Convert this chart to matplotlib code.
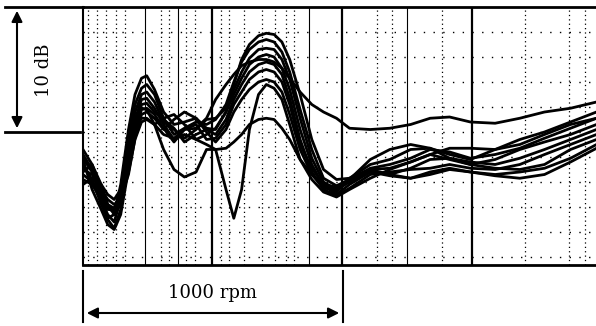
import matplotlib.pyplot as plt
from matplotlib.patches import FancyArrowPatch

# relative engine speed (rpm) and level (dB) for the run-up curves
rpm = [0, 35, 70, 95, 120, 145, 175, 200, 225, 245, 275, 310, 350, 390, 435, 475, 510, 550, 580,
       610, 640, 675, 705, 735, 765, 795, 835, 880, 925, 975, 1025,
       1105, 1180, 1260, 1335, 1410, 1490, 1585, 1680, 1775, 1875, 1975]

c1 = [7.4, 6.2, 4.2, 3.1, 3.4, 5.8, 10.2, 13.0, 14.3, 14.5, 13.4, 11.6, 10.6, 10.8, 11.1, 10.3, 10.2, 11.6, 13.8,
      15.8, 17.0, 17.7, 17.9, 17.8, 17.2, 15.8, 13.0, 9.4, 7.0, 6.2, 6.3,
      7.4, 7.8, 8.6, 8.7, 8.2, 7.8, 8.6, 9.4, 10.0, 10.8, 11.6]
c2 = [8.2, 7.0, 5.0, 3.8, 3.8, 5.4, 9.4, 12.2, 13.5, 13.8, 13.0, 11.1, 9.8, 10.3, 10.8, 10.6, 11.0, 12.2, 14.0,
      15.6, 16.6, 17.2, 17.4, 17.2, 16.4, 14.8, 11.8, 8.6, 6.3, 5.7, 6.2,
      7.1, 7.4, 7.9, 8.6, 8.4, 7.9, 8.2, 8.7, 9.5, 10.3, 11.1]
c3 = [6.8, 7.4, 5.8, 4.2, 3.9, 5.0, 8.6, 11.6, 13.0, 13.2, 12.4, 10.8, 10.2, 9.5, 10.2, 11.0, 11.1, 11.9, 13.4,
      14.8, 15.9, 16.6, 16.7, 16.6, 15.8, 14.2, 11.1, 7.9, 6.0, 5.4, 6.0,
      7.0, 7.1, 7.6, 8.2, 7.8, 7.4, 7.8, 8.6, 9.2, 9.8, 10.6]
c4 = [6.2, 5.8, 4.6, 3.4, 2.8, 4.6, 7.8, 11.0, 12.6, 12.7, 11.9, 10.6, 9.4, 9.8, 9.4, 9.8, 10.3, 11.6, 13.0,
      14.3, 15.4, 16.0, 16.2, 16.0, 15.1, 13.4, 10.2, 7.4, 5.7, 5.0, 5.8,
      6.8, 6.6, 7.1, 7.8, 7.9, 7.6, 7.4, 7.9, 8.6, 9.4, 10.2]
c5 = [7.8, 5.4, 3.8, 2.6, 2.2, 3.4, 7.0, 10.3, 12.2, 12.3, 11.6, 11.0, 10.3, 9.2, 9.8, 10.2, 9.8, 11.0, 12.6,
      13.8, 14.8, 15.4, 15.6, 15.4, 14.6, 12.7, 9.4, 6.8, 5.4, 4.9, 5.5,
      6.6, 6.8, 7.0, 7.1, 7.4, 7.1, 7.0, 7.4, 8.2, 9.0, 9.8]
c6 = [8.6, 7.4, 5.4, 4.2, 3.4, 4.2, 7.1, 10.0, 11.8, 11.9, 11.4, 10.3, 9.2, 10.2, 10.6, 9.4, 9.5, 10.6, 12.2,
      13.2, 14.2, 14.8, 15.0, 14.8, 14.0, 12.2, 9.0, 7.1, 5.8, 5.2, 6.2,
      7.8, 8.6, 9.0, 8.7, 7.9, 7.4, 7.1, 7.0, 7.4, 8.6, 9.4]
c7 = [7.0, 6.6, 5.4, 4.6, 4.2, 4.7, 6.6, 9.5, 11.4, 11.6, 11.1, 10.2, 11.0, 11.6, 11.1, 10.0, 9.2, 10.2, 11.6,
      12.6, 13.4, 14.0, 14.2, 14.0, 13.2, 11.4, 8.6, 6.6, 5.5, 5.4, 6.3,
      7.0, 6.6, 6.3, 6.6, 7.0, 6.8, 6.6, 6.8, 7.1, 7.9, 9.0]
c8 = [6.6, 6.0, 5.0, 3.9, 3.6, 4.6, 7.4, 10.2, 11.1, 11.1, 10.6, 9.8, 9.5, 10.2, 10.3, 11.1, 12.6, 13.8, 14.6,
      15.3, 15.6, 15.8, 15.8, 15.6, 15.1, 14.3, 13.2, 12.2, 11.6, 11.1, 10.3,
      10.2, 10.3, 10.6, 11.1, 11.2, 10.8, 10.7, 11.1, 11.6, 11.9, 12.4]
c9 = [5.8, 6.3, 5.8, 5.0, 4.6, 5.4, 6.8, 9.4, 10.8, 11.0, 10.6, 11.1, 11.4, 10.6, 9.4, 9.0, 8.6, 8.7, 9.2,
      9.8, 10.6, 11.0, 11.1, 11.0, 10.3, 9.4, 7.8, 6.6, 5.8, 5.6, 6.0,
      6.8, 6.5, 6.3, 6.8, 7.1, 6.8, 6.5, 6.3, 6.6, 7.6, 8.7]
c10 = [7.9, 6.8, 4.6, 3.0, 2.3, 3.8, 7.4, 10.6, 11.9, 11.8, 10.6, 8.6, 7.0, 6.4, 6.8, 8.6, 8.6, 5.4, 3.1,
       5.4, 10.2, 13.0, 13.8, 13.5, 12.6, 10.6, 7.8, 6.2, 5.2, 4.8, 5.4,
       6.3, 7.0, 7.6, 8.2, 8.7, 8.7, 8.6, 9.0, 9.8, 10.6, 11.1]
curves = [c1, c2, c3, c4, c5, c6, c7, c8, c9, c10]

# chart paper grid
major_x = [495, 995, 1495]
minor_x = [240, 365, 870, 1245]
dotted_x = [20, 55, 90, 125, 160, 300, 330, 395, 430, 530, 560, 620, 690, 740, 780, 810,
            1130, 1190, 1380, 1700, 1870, 1930]
grid_y = [0, 2, 4, 6, 8, 10, 12, 14, 16, 18]

fig = plt.figure(figsize=(5.96, 3.26), dpi=100)
ax = fig.add_axes([83 / 596, 61 / 326, 513 / 596, 258 / 326])

for x in major_x:
    ax.axvline(x, color="black", lw=1.6, zorder=1)
for x in minor_x:
    ax.axvline(x, color="black", lw=0.8, zorder=1)
for x in dotted_x:
    ax.axvline(x, color="black", lw=0.9, ls=(0, (1, 2.5)), zorder=1)
for y in grid_y:
    ax.axhline(y, color="black", lw=1.0, ls=(0, (1, 6)), zorder=1)

for c in curves:
    ax.plot(rpm, c, color="black", lw=2.0, zorder=3)

ax.set_xlim(0, 1973)
ax.set_ylim(-0.64, 20)
ax.set_xticks([])
ax.set_yticks([])
ax.spines["right"].set_visible(False)
ax.spines["top"].set_linewidth(2)
ax.spines["bottom"].set_linewidth(2)
ax.spines["left"].set_linewidth(1.5)

# 10 dB scale bracket
font = dict(family="DejaVu Serif", size=13)
fig.add_artist(plt.Line2D([5, 83], [319, 319], transform=None, color="black", lw=2))
fig.add_artist(plt.Line2D([5, 80], [194, 194], transform=None, color="black", lw=2))
fig.add_artist(FancyArrowPatch((17, 318), (17, 195), transform=None, arrowstyle="<|-|>",
                               mutation_scale=16, color="black", lw=1.5))
fig.text(44 / 596, 256 / 326, "10 dB", rotation=90, ha="center", va="center", **font)

# 1000 rpm bracket
fig.add_artist(plt.Line2D([83, 83], [55, 4], transform=None, color="black", lw=1.5))
fig.add_artist(plt.Line2D([343, 343], [55, 4], transform=None, color="black", lw=1.5))
fig.add_artist(FancyArrowPatch((84, 13), (342, 13), transform=None, arrowstyle="<|-|>",
                               mutation_scale=16, color="black", lw=1.5))
fig.text(213 / 596, 33 / 326, "1000 rpm", ha="center", va="center", **font)

fig.savefig("out.png", dpi=100)
